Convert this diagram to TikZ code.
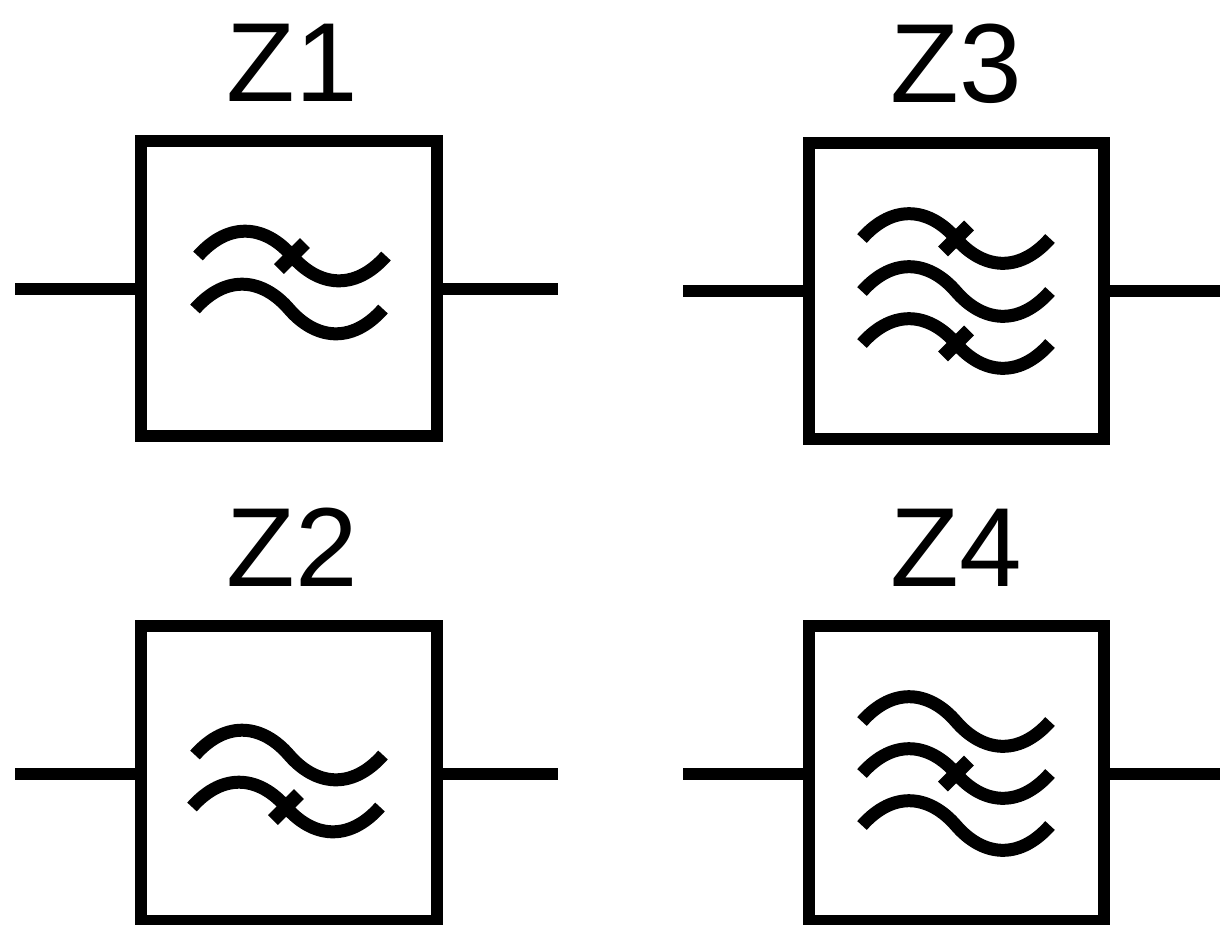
\documentclass[tikz,border=0pt]{standalone}
\usepackage{fontspec}
\setmainfont{Liberation Sans}
\usetikzlibrary{positioning}

\begin{document}
\begin{tikzpicture}[
	x=0.02cm, y=-0.02cm,
	filterbox/.style={draw, line width=0.24cm, minimum size=5.92cm, inner sep=0pt},
	zlabel/.style={inner sep=0pt, font=\fontsize{64}{76}\selectfont, node distance=0.66cm},
	lead/.style={line width=0.24cm},
	wavy/.style={line width=0.26cm},
	pics/wave/.style={code={
		\draw[wavy] (-94,0) .. controls (-62,-36) and (-26,-30) .. (0,0) .. controls (26,30) and (62,36) .. (94,0);
	}},
	pics/cut wave/.style={code={
		\draw[wavy] (-94,0) .. controls (-62,-36) and (-26,-30) .. (0,0) .. controls (26,30) and (62,36) .. (94,0);
		\draw[wavy, line width=0.28cm] (-13,13) -- (13,-13);
	}},
]
	\useasboundingbox (0,0) rectangle (1220,924);

	\node[filterbox] (z1) at (289,288.5) {};
	\node[filterbox] (z3) at (956.5,291) {};
	\node[filterbox] (z2) at (289,773.5) {};
	\node[filterbox] (z4) at (956.5,773.5) {};

	\node[zlabel, above=of z1, xshift=0.06cm] (z1name) {Z1};
	\node[zlabel, above=of z3] (z3name) {Z3};
	\node[zlabel, above=of z2, xshift=0.06cm] (z2name) {Z2};
	\node[zlabel, above=of z4] (z4name) {Z4};

	% leads
	\coordinate (z1in) at (15,288.5);
	\coordinate (z1out) at (558,288.5);
	\coordinate (z3in) at (683,291);
	\coordinate (z3out) at (1220,291);
	\coordinate (z2in) at (15,773.5);
	\coordinate (z2out) at (558,773.5);
	\coordinate (z4in) at (683,773.5);
	\coordinate (z4out) at (1220,773.5);
	\draw[lead] (z1in) -- (z1.west);
	\draw[lead] (z1.east) -- (z1out);
	\draw[lead] (z3in) -- (z3.west);
	\draw[lead] (z3.east) -- (z3out);
	\draw[lead] (z2in) -- (z2.west);
	\draw[lead] (z2.east) -- (z2out);
	\draw[lead] (z4in) -- (z4.west);
	\draw[lead] (z4.east) -- (z4out);

	% waves
	\pic at (292,256) {cut wave};
	\pic at (289,309) {wave};
	\pic at (289,755) {wave};
	\pic at (286,807) {cut wave};
	\pic at (956,238.5) {cut wave};
	\pic at (956,291.5) {wave};
	\pic at (956,343.5) {cut wave};
	\pic at (956,721.5) {wave};
	\pic at (956,773.5) {cut wave};
	\pic at (956,825.5) {wave};
\end{tikzpicture}
\end{document}
